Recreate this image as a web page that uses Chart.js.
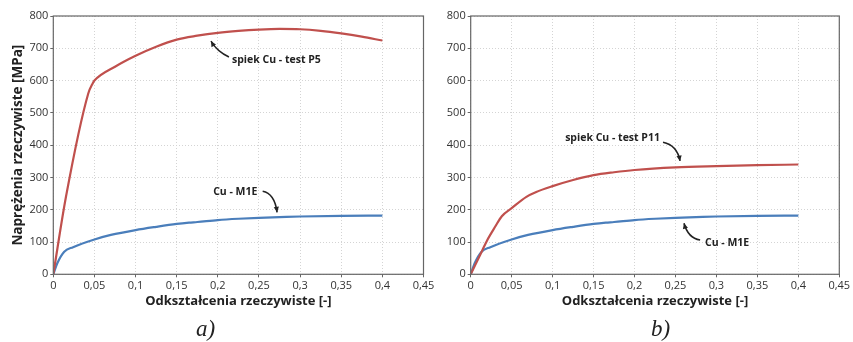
<!DOCTYPE html>
<html lang="pl">
<head>
<meta charset="UTF-8" />
<title>Krzywe umocnienia</title>
<script src="https://cdn.jsdelivr.net/npm/chart.js"></script>
<style>
    body { margin: 0; background: #fff; }
    #wrap { position: relative; width: 853px; height: 342px; }
    .panel { position: absolute; top: 0; height: 342px; }
    .tag { position: absolute; top: 316px; font: italic 23px "Liberation Serif", serif; color: #222; }
</style>
</head>
<body>
<div id="wrap">
    <div class="panel" style="left:0;width:440px"><canvas id="chartA"></canvas></div>
    <div class="panel" style="left:436px;width:417px"><canvas id="chartB"></canvas></div>
    <div class="tag" style="left:196px">a)</div>
    <div class="tag" style="left:651px">b)</div>
</div>
<script>
    // odkształcenie [-] / naprężenie [MPa]
    const strainP5 = [0, 0.0154, 0.0425, 0.048, 0.05, 0.075, 0.1, 0.125, 0.15, 0.175, 0.2, 0.225, 0.25, 0.275, 0.3, 0.325, 0.35, 0.375, 0.4];
    const stressP5 = [0, 240, 560, 592, 600, 643, 677, 705, 727, 739, 748, 754, 758, 760, 759, 754, 746, 736, 724];

    const strainM1E = [0, 0.005, 0.0133, 0.024, 0.05, 0.07, 0.1, 0.125, 0.15, 0.165, 0.175, 0.2, 0.225, 0.25, 0.275, 0.3, 0.35, 0.4];
    const stressM1E = [0, 35, 70, 84, 108, 122, 137, 147, 156, 160, 162, 168, 172, 175, 177, 179, 181, 182];

    const strainP11 = [0, 0.0134, 0.02, 0.03, 0.038, 0.05, 0.068, 0.08, 0.1, 0.125, 0.15, 0.175, 0.2, 0.25, 0.3, 0.35, 0.4];
    const stressP11 = [0, 70, 105, 148, 180, 205, 240, 255, 273, 292, 307, 316, 323, 331, 335, 338, 340];

    const xTicks = [0, 0.05, 0.1, 0.15, 0.2, 0.25, 0.3, 0.35, 0.4, 0.45];

    // opisy: tekst, pozycja tekstu, ogon strzałki, punkt kontrolny, grot (w jednostkach danych)
    const notesA = [
        { text: 'spiek Cu - test P5', at: [0.2172, 664], tail: [0.2135, 673], ctrl: [0.199, 690], tip: [0.1917, 722] },
        { text: 'Cu - M1E', at: [0.1943, 256], tail: [0.2545, 257], ctrl: [0.269, 250], tip: [0.272, 192] }
    ];
    const notesB = [
        { text: 'spiek Cu - test P11', at: [0.1153, 422], tail: [0.2348, 409], ctrl: [0.252, 400], tip: [0.2556, 351] },
        { text: 'Cu - M1E', at: [0.286, 97], tail: [0.2801, 106], ctrl: [0.2653, 112], tip: [0.2604, 158] }
    ];

    const RED = '#c0504d';
    const BLUE = '#4a7ebb';
    const FONT = '"Open Sans", sans-serif';

    function pts(xs, ys) {
        return xs.map((x, i) => ({ x: x, y: ys[i] }));
    }

    const framePlugin = {
        id: 'frame',
        afterDraw(chart) {
            const { ctx, chartArea: a } = chart;
            ctx.save();
            ctx.strokeStyle = '#666';
            ctx.lineWidth = 1.2;
            ctx.strokeRect(a.left, a.top, a.right - a.left, a.bottom - a.top);
            ctx.restore();
        }
    };

    const notePlugin = {
        id: 'notes',
        afterDatasetsDraw(chart, args, opts) {
            const { ctx, scales: { x, y } } = chart;
            const px = p => [x.getPixelForValue(p[0]), y.getPixelForValue(p[1])];
            ctx.save();
            opts.items.forEach(n => {
                ctx.fillStyle = '#222';
                ctx.font = 'bold 10.5px ' + FONT;
                ctx.textBaseline = 'middle';
                const t = px(n.at);
                ctx.fillText(n.text, t[0], t[1]);
                const [sx, sy] = px(n.tail), [cx, cy] = px(n.ctrl), [ex, ey] = px(n.tip);
                ctx.strokeStyle = '#222';
                ctx.lineWidth = 1.6;
                ctx.beginPath();
                ctx.moveTo(sx, sy);
                ctx.quadraticCurveTo(cx, cy, ex, ey);
                ctx.stroke();
                const ang = Math.atan2(ey - cy, ex - cx);
                ctx.beginPath();
                ctx.moveTo(ex, ey);
                ctx.lineTo(ex - 6 * Math.cos(ang - 0.45), ey - 6 * Math.sin(ang - 0.45));
                ctx.lineTo(ex - 6 * Math.cos(ang + 0.45), ey - 6 * Math.sin(ang + 0.45));
                ctx.closePath();
                ctx.fill();
            });
            ctx.restore();
        }
    };

    function makeChart(id, redX, redY, notes, yWidth, showYTitle, padRight) {
        return new Chart(document.getElementById(id), {
            type: 'line',
            data: {
                datasets: [
                    { data: pts(redX, redY), borderColor: RED, borderWidth: 2.2, pointRadius: 0, cubicInterpolationMode: 'monotone' },
                    { data: pts(strainM1E, stressM1E), borderColor: BLUE, borderWidth: 2.2, pointRadius: 0, cubicInterpolationMode: 'monotone' }
                ]
            },
            options: {
                responsive: true,
                maintainAspectRatio: false,
                animation: false,
                layout: { padding: { top: 16, right: padRight, bottom: 0, left: 0 } },
                plugins: {
                    legend: { display: false },
                    tooltip: { enabled: false },
                    notes: { items: notes }
                },
                scales: {
                    x: {
                        type: 'linear',
                        min: 0,
                        max: 0.45,
                        afterBuildTicks: s => { s.ticks = xTicks.map(v => ({ value: v })); },
                        afterFit: s => { s.height = 67.7; s.paddingLeft = 0; s.paddingRight = 0; },
                        ticks: {
                            color: '#333',
                            font: { family: FONT, size: 11 },
                            padding: 2,
                            maxRotation: 0,
                            callback: v => String(Math.round(v * 100) / 100).replace('.', ',')
                        },
                        grid: { color: '#d4d4d4', tickLength: 3, tickColor: '#666' },
                        border: { display: false, dash: [1, 2] },
                        title: {
                            display: true,
                            text: 'Odkształcenia rzeczywiste [-]',
                            color: '#222',
                            font: { family: FONT, size: 13, weight: 'bold' },
                            padding: { top: 0, bottom: 33 }
                        }
                    },
                    y: {
                        min: 0,
                        max: 800,
                        afterFit: s => { s.width = yWidth; s.paddingTop = 0; s.paddingBottom = 0; },
                        ticks: { stepSize: 100, color: '#333', font: { family: FONT, size: 11 }, padding: 2 },
                        grid: { color: '#d4d4d4', tickLength: 3, tickColor: '#666' },
                        border: { display: false, dash: [1, 2] },
                        title: {
                            display: showYTitle,
                            text: 'Naprężenia rzeczywiste [MPa]',
                            color: '#222',
                            font: { family: FONT, size: 13.5, weight: 'bold' },
                            padding: { top: 10, bottom: 0 }
                        }
                    }
                }
            },
            plugins: [framePlugin, notePlugin]
        });
    }

    makeChart('chartA', strainP5, stressP5, notesA, 53.3, true, 16.5);
    makeChart('chartB', strainP11, stressP11, notesB, 34.7, false, 13.7);
</script>
</body>
</html>
